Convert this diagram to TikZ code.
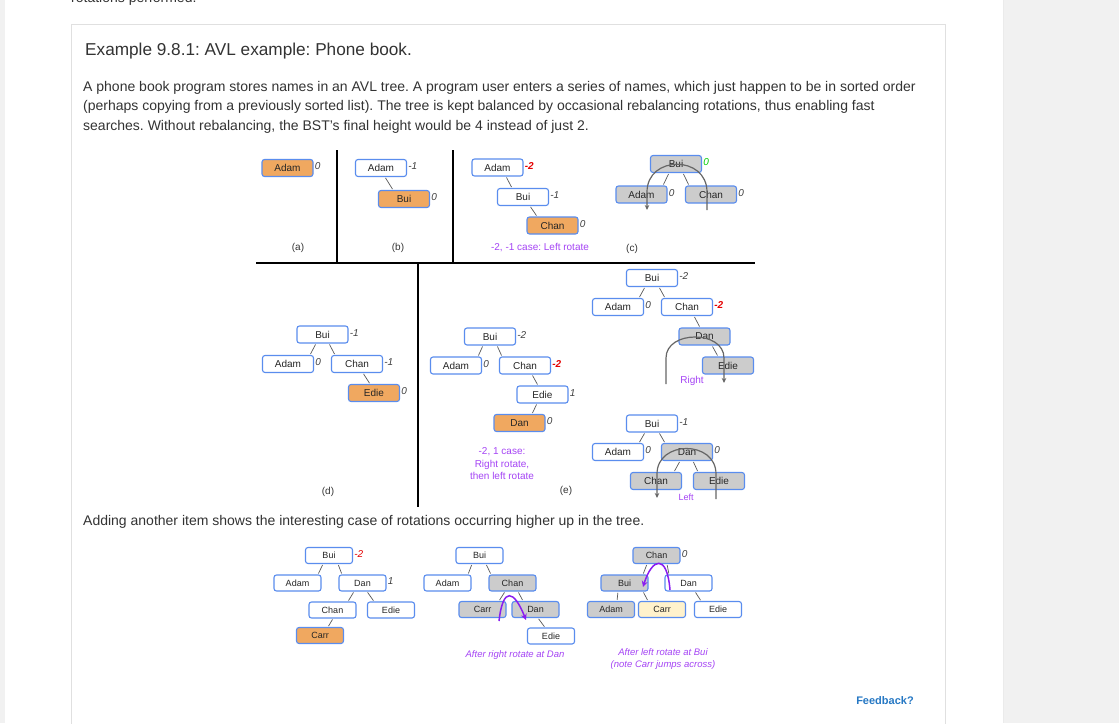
\documentclass[tikz,border=0pt]{standalone}
\usepackage{fontspec}
\setmainfont{Liberation Sans}
\usetikzlibrary{arrows.meta}
\definecolor{boxblue}{HTML}{5A8DEE}
\definecolor{boxorange}{HTML}{F0A860}
\definecolor{boxgray}{HTML}{CCCCCC}
\definecolor{boxyellow}{HTML}{FFF2CC}
\definecolor{notepurple}{HTML}{A544F5}
\definecolor{arrowpurple}{HTML}{8A1CF0}
\definecolor{textgray}{HTML}{333333}
\definecolor{pagegray}{HTML}{F1F1F1}
\definecolor{linkblue}{HTML}{2678C4}
\frenchspacing

\begin{document}
\begin{tikzpicture}[x=1pt, y=-1pt,
  vtx/.style={draw=boxblue, line width=1.1pt, rounded corners=2.5pt, fill=white,
    minimum width=51pt, minimum height=17pt, inner sep=0pt, text=black!85,
    font=\fontsize{10}{12}\selectfont},
  small/.style={vtx, minimum width=47pt, minimum height=16pt, font=\fontsize{9}{11}\selectfont},
  hot/.style={fill=boxorange},
  moved/.style={fill=boxgray},
  bal/.style={anchor=west, inner sep=1pt, yshift=1.5pt, text=black!75,
    font=\fontsize{10}{12}\selectfont\itshape},
  bad/.style={text=red!90!black, font=\fontsize{10}{12}\selectfont\bfseries\itshape},
  edge/.style={draw=black!65, line width=0.7pt, shorten <=1pt, shorten >=1pt},
  turn/.style={draw=black!60, line width=1.2pt, -{Stealth[length=5pt,width=4.5pt]}},
  hop/.style={draw=arrowpurple, line width=1.5pt, -{Stealth[length=6pt,width=6pt]}},
  note/.style={text=notepurple, font=\fontsize{10}{12.5}\selectfont, align=center},
  tag/.style={text=textgray, font=\fontsize{10}{12}\selectfont},
  body/.style={anchor=west, inner sep=0pt, text=textgray, font=\fontsize{14}{16}\selectfont},
  rule/.style={draw=black, line width=1.5pt}]

\useasboundingbox (0,0) rectangle (1119,723);

% page and card
\fill[white] (0,0) rectangle (1119,723);
\fill[pagegray] (0,0) rectangle (5,723);
\fill[pagegray] (1003,0) rectangle (1119,723);
\draw[black!8, line width=1pt] (1003,0) -- (1003,723);
\draw[black!12, line width=0.8pt] (71,24) rectangle (945,740);

\node[body, anchor=base west] (cut) at (71,2) {rotations performed.};
\node[body, anchor=west, font=\fontsize{17.2}{20}\selectfont] (title) at (85,51) {Example 9.8.1: AVL example: Phone book.};
\node[body] (line1) at (83,88) {A phone book program stores names in an AVL tree. A program user enters a series of names, which just happen to be in sorted order};
\node[body] (line2) at (83,107) {(perhaps copying from a previously sorted list). The tree is kept balanced by occasional rebalancing rotations, thus enabling fast};
\node[body] (line3) at (83,127) {searches. Without rebalancing, the BST's final height would be 4 instead of just 2.};

% dividing rules
\draw[rule] (337,150) -- (337,263);
\draw[rule] (453,150) -- (453,263);
\draw[rule] (256,263) -- (755,263);
\draw[rule] (418,263) -- (418,507);

% (a)
\node[vtx, hot] (adamA) at (287.5,168) {Adam};
\node[bal] at (adamA.east) {0};
\node[tag] (labA) at (298,248) {(a)};

% (b)
\node[vtx] (adamB) at (381,168) {Adam};
\node[vtx, hot] (buiB) at (404,199) {Bui};
\node[bal] at (adamB.east) {-1};
\node[bal] at (buiB.east) {0};
\draw[edge] ([xshift=4]adamB.south) -- ([xshift=-11]buiB.north);
\node[tag] (labB) at (398,248) {(b)};

% before the left rotation
\node[vtx] (adamC) at (497.5,167.5) {Adam};
\node[vtx] (buiC) at (523,197) {Bui};
\node[vtx, hot] (chanC) at (552.5,225.5) {Chan};
\node[bal, bad] at (adamC.east) {-2};
\node[bal] at (buiC.east) {-1};
\node[bal] at (chanC.east) {0};
\draw[edge] ([xshift=8.5]adamC.south) -- ([xshift=-11]buiC.north);
\draw[edge] ([xshift=7]buiC.south) -- ([xshift=-15.5]chanC.north);
\node[note] (caseC) at (540,248) {-2, -1 case: Left rotate};

% (c)
\node[vtx, moved] (buiR) at (676,164) {Bui};
\node[vtx, moved] (adamR) at (641.5,194.5) {Adam};
\node[vtx, moved] (chanR) at (711,194.5) {Chan};
\node[bal, text=green!80!black] at (buiR.east) {0};
\node[bal] at (adamR.east) {0};
\node[bal] at (chanR.east) {0};
\draw[edge] ([xshift=-7]buiR.south) -- ([xshift=21.5]adamR.north);
\draw[edge] ([xshift=7]buiR.south) -- ([xshift=-22]chanR.north);
\draw[turn] (707,210) -- (707,192) .. controls (707,155) and (647,155) .. (647,192) -- (647,210);
\node[tag] (labC) at (632,249) {(c)};

% (d)
\node[vtx] (buiD) at (322.5,334.5) {Bui};
\node[vtx] (adamD) at (288,364) {Adam};
\node[vtx] (chanD) at (357,364) {Chan};
\node[vtx, hot] (edieD) at (374,393) {Edie};
\node[bal] at (buiD.east) {-1};
\node[bal] at (adamD.east) {0};
\node[bal] at (chanD.east) {-1};
\node[bal] at (edieD.east) {0};
\draw[edge] ([xshift=-6.5]buiD.south) -- ([xshift=22]adamD.north);
\draw[edge] ([xshift=6.5]buiD.south) -- ([xshift=-22]chanD.north);
\draw[edge] ([xshift=6]chanD.south) -- ([xshift=-4]edieD.north);
\node[tag] (labD) at (328,492) {(d)};

% (e)
\node[vtx] (buiE) at (490,336.5) {Bui};
\node[vtx] (adamE) at (456,365.5) {Adam};
\node[vtx] (chanE) at (525,365.5) {Chan};
\node[vtx] (edieE) at (542.5,394.5) {Edie};
\node[vtx, hot] (danE) at (519.5,423) {Dan};
\node[bal] at (buiE.east) {-2};
\node[bal] at (adamE.east) {0};
\node[bal, bad] at (chanE.east) {-2};
\node[bal] at (edieE.east) {1};
\node[bal] at (danE.east) {0};
\draw[edge] ([xshift=-7]buiE.south) -- ([xshift=22]adamE.north);
\draw[edge] ([xshift=7]buiE.south) -- ([xshift=-23]chanE.north);
\draw[edge] ([xshift=7]chanE.south) -- ([xshift=-4.5]edieE.north);
\draw[edge] ([xshift=-5.5]edieE.south) -- ([xshift=12.5]danE.north);
\node[note] (caseE) at (502,464) {-2, 1 case:\\Right rotate,\\then left rotate};
\node[tag] (labE) at (566,491) {(e)};

% right rotate at Edie
\node[vtx] (buiF) at (652,278) {Bui};
\node[vtx] (adamF) at (618,307) {Adam};
\node[vtx] (chanF) at (687,307) {Chan};
\node[vtx, moved] (danF) at (704.5,336.5) {Dan};
\node[vtx, moved] (edieF) at (728,365.5) {Edie};
\node[bal] at (buiF.east) {-2};
\node[bal] at (adamF.east) {0};
\node[bal, bad] at (chanF.east) {-2};
\draw[edge] ([xshift=-7]buiF.south) -- ([xshift=21]adamF.north);
\draw[edge] ([xshift=7]buiF.south) -- ([xshift=-22]chanF.north);
\draw[edge] ([xshift=7]chanF.south) -- ([xshift=-4.5]danF.north);
\draw[edge] ([xshift=7.5]danF.south) -- ([xshift=-10]edieF.north);
\draw[turn] (666,384) -- (666,358) .. controls (666,330) and (724,330) .. (724,358) -- (724,383);
\node[note] (right) at (692,381) {Right};

% left rotate at Chan
\node[vtx] (buiG) at (652,423.5) {Bui};
\node[vtx] (adamG) at (618,452) {Adam};
\node[vtx, moved] (danG) at (687,452) {Dan};
\node[vtx, moved] (chanG) at (656,481) {Chan};
\node[vtx, moved] (edieG) at (719,481) {Edie};
\node[bal] at (buiG.east) {-1};
\node[bal] at (adamG.east) {0};
\node[bal] at (danG.east) {0};
\draw[edge] ([xshift=-7]buiG.south) -- ([xshift=21]adamG.north);
\draw[edge] ([xshift=7]buiG.south) -- ([xshift=-22]danG.north);
\draw[edge] ([xshift=-7]danG.south) -- ([xshift=18]chanG.north);
\draw[edge] ([xshift=6]danG.south) -- ([xshift=-21]edieG.north);
\draw[turn] (716,499) -- (716,474) .. controls (716,440) and (657,440) .. (657,474) -- (657,498);
\node[note, font=\fontsize{9}{11}\selectfont] (left) at (686,497) {Left};

\node[body] (line4) at (83,522) {Adding another item shows the interesting case of rotations occurring higher up in the tree.};

% Carr inserted
\node[small] (buiH) at (329,555.5) {Bui};
\node[small] (adamH) at (297.5,583) {Adam};
\node[small] (danH) at (362.5,583) {Dan};
\node[small] (chanH) at (332.5,610) {Chan};
\node[small] (edieH) at (391,610) {Edie};
\node[small, hot] (carrH) at (320,635.5) {Carr};
\node[bal, text=red!90!black] at (buiH.east) {-2};
\node[bal] at (danH.east) {1};
\draw[edge] ([xshift=-6]buiH.south) -- ([xshift=20.5]adamH.north);
\draw[edge] ([xshift=9]buiH.south) -- ([xshift=-20.5]danH.north);
\draw[edge] ([xshift=-8.5]danH.south) -- ([xshift=15.5]chanH.north);
\draw[edge] ([xshift=4.5]danH.south) -- ([xshift=-17]edieH.north);
\draw[edge] ([xshift=0.5]chanH.south) -- ([xshift=8]carrH.north);

% after right rotate at Dan
\node[small] (buiI) at (479.5,555.5) {Bui};
\node[small] (adamI) at (447.5,583) {Adam};
\node[small, moved] (chanI) at (512.5,583) {Chan};
\node[small, moved] (carrI) at (482.5,609.5) {Carr};
\node[small, moved] (danI) at (535.5,609.5) {Dan};
\node[small] (edieI) at (551,636) {Edie};
\draw[edge] ([xshift=-7.5]buiI.south) -- ([xshift=20.5]adamI.north);
\draw[edge] ([xshift=6.5]buiI.south) -- ([xshift=-21.5]chanI.north);
\draw[edge] ([xshift=-7.5]chanI.south) -- ([xshift=16.5]carrI.north);
\draw[edge] ([xshift=5.5]chanI.south) -- ([xshift=-12.5]danI.north);
\draw[edge] ([xshift=2.5]danI.south) -- ([xshift=-6]edieI.north);
\draw[hop] (499,621) .. controls (503,586) and (514,590) .. (526,620);
\node[note, font=\fontsize{9.5}{12}\selectfont\itshape] (afterI) at (515,655) {After right rotate at Dan};

% after left rotate at Bui
\node[small, moved] (chanJ) at (656.5,555.5) {Chan};
\node[small, moved] (buiJ) at (624.5,583) {Bui};
\node[small] (danJ) at (688.5,583) {Dan};
\node[small, moved] (adamJ) at (611,609.5) {Adam};
\node[small, fill=boxyellow] (carrJ) at (662,609.5) {Carr};
\node[small] (edieJ) at (718,609.5) {Edie};
\node[bal] at (chanJ.east) {0};
\draw[edge] ([xshift=-9.5]chanJ.south) -- ([xshift=18.5]buiJ.north);
\draw[edge] ([xshift=10.5]chanJ.south) -- ([xshift=-19.5]danJ.north);
\draw[edge] ([xshift=-6.5]buiJ.south) -- ([xshift=6]adamJ.north);
\draw[edge] ([xshift=18.5]buiJ.south) -- ([xshift=-14]carrJ.north);
\draw[edge] ([xshift=6.5]danJ.south) -- ([xshift=-17]edieJ.north);
\draw[hop] (670,590) .. controls (667,553) and (652,558) .. (643,587);
\node[note, font=\fontsize{9.5}{12}\selectfont\itshape] (afterJ) at (663,659) {After left rotate at Bui\\(note Carr jumps across)};

\node[text=linkblue, font=\fontsize{11}{13}\selectfont\bfseries] (feedback) at (885,701) {Feedback?};

\end{tikzpicture}
\end{document}
